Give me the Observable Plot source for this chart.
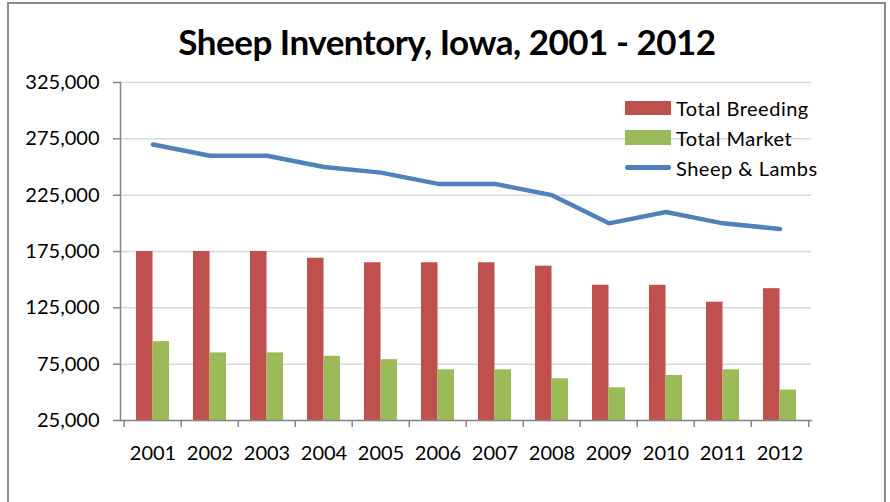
<!DOCTYPE html>
<html><head><meta charset="utf-8">
<script src="https://cdn.jsdelivr.net/npm/d3@7"></script>
<script src="https://cdn.jsdelivr.net/npm/@observablehq/plot@0.6"></script>
<style>
html,body{margin:0;padding:0;background:#fff;}
#wrap{position:relative;width:890px;height:502px;overflow:hidden;font-family:Lato,"Open Sans",sans-serif;color:#000;}
#border{position:absolute;left:7px;top:2px;width:879px;height:560px;border:2px solid #8c8c8c;box-sizing:border-box;}
#title{position:relative;height:70px;box-sizing:border-box;padding-top:21px;line-height:40px;font-size:35px;font-weight:700;text-align:center;letter-spacing:-0.5px;padding-left:4px;}
#chart{position:relative;}
#legend{position:absolute;left:625px;top:92.5px;font-size:20px;letter-spacing:0.5px;}
.row{display:flex;align-items:center;height:30px;white-space:nowrap;}
.sw{width:46px;height:14px;margin-right:5px;}
.ln{width:46px;height:4.5px;border-radius:3px;margin-right:5px;}
</style>
</head><body>
<div id="wrap">
  <div id="border"></div>
  <div id="title">Sheep Inventory, Iowa, 2001 - 2012</div>
  <div id="chart"></div>
  <div id="legend"></div>
</div>
<script>
const years = ["2001","2002","2003","2004","2005","2006","2007","2008","2009","2010","2011","2012"];
const breeding = [175000,175000,175000,169000,165000,165000,165000,162000,145000,145000,130000,142000];
const market = [95000,85000,85000,82000,79000,70000,70000,62000,54000,65000,70000,52000];
const sheep = [270000,260000,260000,250000,245000,235000,235000,225000,200000,210000,200000,195000];
const yTicks = [25000,75000,125000,175000,225000,275000,325000];
const seriesNames = ["Total Breeding","Total Market","Sheep & Lambs"];
const colors = ["#C0504D","#9BBB59","#4F81BD"];

const data = years.map((y,i) => ({year:y, breeding:breeding[i], market:market[i], sheep:sheep[i]}));

const W = 890, H = 432, mL = 120, mR = 79, mT = 12, mB = 82;
const pInner = 0.427, pOuter = pInner/2;
const step = (W - mL - mR) / years.length;
const half = step * (1 - pInner) / 2;
const axisGray = "#868686";

const chart = Plot.plot({
  width: W, height: H,
  marginLeft: mL, marginRight: mR, marginTop: mT, marginBottom: mB,
  style: {fontFamily: "Lato, 'Open Sans', sans-serif", fontSize: "20px", color: "#000", background: "transparent"},
  x: {domain: years, type: "band", paddingInner: pInner, paddingOuter: pOuter},
  y: {domain: [yTicks[0], yTicks[yTicks.length-1]]},
  marks: [
    Plot.gridY(yTicks, {stroke: "#d9d9d9", strokeOpacity: 1, strokeWidth: 1.5}),
    Plot.barY(data, {x: "year", y: "breeding", fill: colors[0], insetRight: half, insetLeft: 0, clip: true}),
    Plot.barY(data, {x: "year", y: "market", fill: colors[1], insetLeft: half, insetRight: 0, clip: true}),
    Plot.frame({anchor: "left", stroke: axisGray, strokeWidth: 1.5}),
    Plot.frame({anchor: "bottom", stroke: axisGray, strokeWidth: 1.5}),
    Plot.axisY(yTicks, {tickSize: 7, tickPadding: 14, tickFormat: d3.format(","), stroke: axisGray, strokeWidth: 1.5, fill: "#000", label: null}),
    Plot.axisX({tickSize: 7, dx: -step/2, tickFormat: () => "", stroke: axisGray, strokeWidth: 1.5, label: null}),
    Plot.axisX([years[years.length-1]], {tickSize: 7, dx: step/2, tickFormat: () => "", stroke: axisGray, strokeWidth: 1.5, label: null}),
    Plot.axisX({tickSize: 0, tickPadding: 25, fill: "#000", label: null}),
    Plot.lineY(data, {x: "year", y: "sheep", stroke: colors[2], strokeWidth: 4.5, strokeLinejoin: "round", strokeLinecap: "round"})
  ]
});
document.getElementById("chart").appendChild(chart);

const legend = document.getElementById("legend");
seriesNames.forEach((name, i) => {
  const row = document.createElement("div");
  row.className = "row";
  const sw = document.createElement("div");
  sw.className = i < 2 ? "sw" : "ln";
  if (i === 1) sw.style.height = "15px";
  sw.style.background = colors[i];
  const t = document.createElement("span");
  t.textContent = name;
  row.appendChild(sw); row.appendChild(t);
  legend.appendChild(row);
});
</script>
</body></html>
